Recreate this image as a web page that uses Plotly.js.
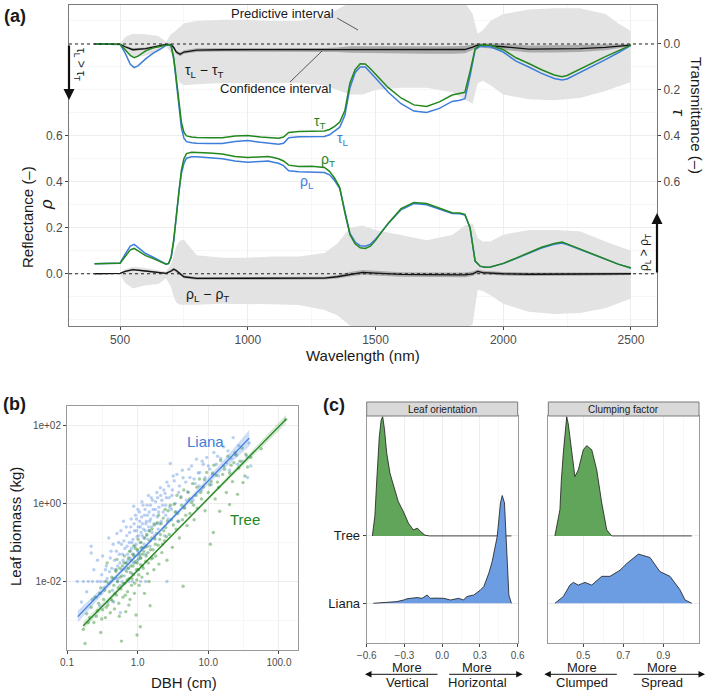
<!DOCTYPE html>
<html>
<head>
<meta charset="utf-8">
<script src="https://cdn.plot.ly/plotly-3.0.1.min.js"></script>
<style>html,body{margin:0;padding:0;background:#fff;}#chart{width:709px;height:691px;}</style>
</head>
<body>
<div id="chart"></div>
<script>
// ---------------- Panel (a) data ----------------
const wl = [400,450,500,520,540,555,570,600,630,660,680,690,700,710,720,730,740,750,760,780,800,850,900,950,1000,1050,1080,1100,1120,1140,1160,1200,1250,1300,1320,1340,1360,1380,1400,1420,1440,1460,1480,1500,1550,1600,1650,1700,1750,1800,1830,1850,1870,1890,1910,1930,1950,2000,2050,2100,2150,2200,2230,2250,2300,2350,2400,2450,2500];
const rhoTree = [0.043,0.044,0.046,0.075,0.104,0.11,0.1,0.079,0.066,0.05,0.042,0.045,0.075,0.15,0.26,0.37,0.45,0.5,0.522,0.528,0.528,0.525,0.52,0.51,0.505,0.508,0.51,0.505,0.5,0.49,0.472,0.466,0.467,0.462,0.445,0.415,0.375,0.265,0.17,0.13,0.113,0.11,0.12,0.145,0.22,0.283,0.31,0.305,0.285,0.265,0.264,0.258,0.2,0.055,0.033,0.028,0.029,0.045,0.068,0.093,0.115,0.132,0.138,0.13,0.108,0.085,0.063,0.042,0.025];
const rhoLiana = [0.043,0.044,0.047,0.085,0.12,0.128,0.115,0.088,0.072,0.052,0.042,0.044,0.07,0.14,0.25,0.355,0.435,0.48,0.502,0.508,0.508,0.505,0.5,0.49,0.485,0.488,0.49,0.485,0.48,0.47,0.448,0.443,0.443,0.44,0.43,0.405,0.37,0.265,0.175,0.138,0.122,0.12,0.128,0.15,0.218,0.278,0.305,0.3,0.28,0.262,0.261,0.255,0.2,0.055,0.032,0.028,0.029,0.044,0.066,0.09,0.112,0.128,0.134,0.127,0.106,0.084,0.062,0.042,0.025];
const tauTree = [0,0,0.001,0.025,0.05,0.06,0.053,0.03,0.017,0.01,0.003,0.002,0.008,0.06,0.15,0.26,0.34,0.385,0.4,0.405,0.407,0.408,0.408,0.4,0.398,0.405,0.408,0.409,0.41,0.405,0.385,0.381,0.381,0.379,0.372,0.358,0.34,0.29,0.17,0.112,0.086,0.087,0.108,0.132,0.19,0.235,0.265,0.272,0.252,0.222,0.216,0.21,0.12,0.02,0.005,0.004,0.006,0.025,0.06,0.085,0.112,0.135,0.142,0.137,0.11,0.08,0.055,0.03,0.005];
const tauLiana = [0,0,0.002,0.04,0.088,0.103,0.095,0.065,0.04,0.02,0.006,0.003,0.01,0.065,0.165,0.28,0.365,0.41,0.425,0.43,0.432,0.433,0.433,0.424,0.42,0.428,0.432,0.434,0.436,0.432,0.408,0.404,0.404,0.402,0.395,0.38,0.362,0.31,0.19,0.125,0.1,0.1,0.123,0.148,0.21,0.26,0.292,0.298,0.28,0.25,0.245,0.238,0.14,0.025,0.01,0.01,0.012,0.035,0.075,0.1,0.128,0.15,0.157,0.152,0.125,0.095,0.068,0.038,0.006];

const diffWl = [400,450,500,520,550,600,650,680,700,710,720,735,750,800,900,1000,1100,1200,1300,1350,1400,1450,1500,1600,1700,1800,1850,1880,1900,1920,1950,2000,2100,2200,2300,2400,2450,2500];
const dRho = [0,0,0.002,0.01,0.018,0.012,0.006,0.002,0.012,0.02,0.014,0,-0.013,-0.02,-0.02,-0.02,-0.02,-0.021,-0.019,-0.013,-0.002,0.006,0.003,-0.003,-0.004,-0.005,-0.005,0,0.01,0.005,0.002,0,-0.002,-0.002,-0.001,0,0,0];
const dTau = [0,0,0.002,0.012,0.025,0.02,0.01,0.002,0.004,0.015,0.035,0.045,0.035,0.027,0.025,0.025,0.025,0.025,0.025,0.025,0.024,0.023,0.024,0.025,0.026,0.026,0.024,0.014,0.005,0.006,0.008,0.012,0.022,0.022,0.02,0.015,0.01,0.005];

const bandWl = [500,520,550,600,650,680,700,710,720,735,750,800,900,1000,1100,1200,1300,1350,1400,1450,1500,1600,1700,1800,1850,1880,1900,1920,1950,2000,2100,2200,2300,2400,2450,2500];
const rhoPIhi = [0.003,0.02,0.03,0.025,0.015,0.01,0.04,0.08,0.12,0.145,0.148,0.08,0.07,0.07,0.075,0.075,0.09,0.13,0.2,0.21,0.19,0.168,0.146,0.168,0.21,0.22,0.155,0.14,0.14,0.17,0.19,0.19,0.185,0.14,0.12,0.1];
const rhoPIlo = [-0.003,-0.04,-0.064,-0.05,-0.045,-0.02,-0.06,-0.1,-0.125,-0.135,-0.137,-0.135,-0.13,-0.13,-0.133,-0.136,-0.158,-0.18,-0.225,-0.24,-0.24,-0.24,-0.24,-0.24,-0.24,-0.22,-0.07,-0.075,-0.093,-0.13,-0.165,-0.175,-0.17,-0.15,-0.13,-0.107];
const tauPIhi = [0.004,0.03,0.06,0.05,0.035,0.01,0.04,0.09,0.14,0.17,0.18,0.175,0.17,0.17,0.17,0.17,0.18,0.2,0.22,0.22,0.2,0.19,0.19,0.21,0.24,0.26,0.17,0.16,0.18,0.22,0.24,0.245,0.235,0.205,0.185,0.165];
const tauPIlo = [-0.003,-0.03,-0.045,-0.042,-0.035,-0.01,-0.045,-0.05,-0.06,-0.075,-0.09,-0.1,-0.105,-0.105,-0.1,-0.1,-0.12,-0.15,-0.18,-0.18,-0.18,-0.18,-0.175,-0.18,-0.18,-0.13,-0.045,-0.06,-0.1,-0.13,-0.15,-0.155,-0.155,-0.13,-0.09,-0.055];
const rhoCIw = [0.002,0.004,0.004,0.004,0.004,0.004,0.006,0.006,0.006,0.006,0.006,0.006,0.006,0.006,0.006,0.006,0.006,0.008,0.01,0.01,0.01,0.01,0.01,0.01,0.01,0.01,0.008,0.008,0.008,0.008,0.008,0.008,0.008,0.008,0.007,0.005];
const tauCIw = [0.002,0.005,0.006,0.005,0.005,0.004,0.006,0.008,0.008,0.008,0.008,0.008,0.008,0.008,0.008,0.008,0.008,0.01,0.014,0.016,0.016,0.016,0.016,0.016,0.016,0.012,0.008,0.01,0.012,0.014,0.015,0.015,0.015,0.012,0.009,0.005];

// ---------------- Panel (b) data: [DBH (cm), leaf biomass (kg)] ----------------
const lianaPts = [[0.14,0.01],[0.17,0.01],[0.2,0.01],[0.23,0.01],[0.27,0.01],[0.3,0.01],[0.34,0.01],[0.42,0.01],[0.52,0.01],[0.6,0.01],[0.75,0.01],[0.85,0.01],[1.1,0.01],[1.3,0.01],[2.6,0.01],
[0.16,0.003],[0.19,0.0055],[0.22,0.08],[0.22,0.054],[0.24,0.02],[0.26,0.004],[0.27,0.035],[0.29,0.0024],[0.3,0.005],[0.31,0.015],[0.32,0.045],[0.34,0.007],[0.36,0.025],[0.38,0.003],[0.39,0.13],[0.4,0.018],[0.42,0.06],[0.44,0.006],[0.46,0.003],[0.47,0.035],[0.49,0.012],[0.51,0.17],[0.52,0.025],[0.55,0.05],[0.57,0.0016],[0.57,0.008],[0.59,0.09],[0.6,0.02],[0.62,0.035],[0.63,0.35],[0.65,0.014],[0.66,0.07],[0.68,0.03],[0.7,0.15],[0.72,0.05],[0.74,0.022],[0.76,0.1],[0.78,0.04],[0.8,0.25],[0.82,0.07],[0.84,0.016],[0.86,0.12],[0.88,0.85],[0.88,0.05],[0.9,0.2],[0.92,0.03],[0.94,0.09],[0.96,0.4],[0.98,0.14],[1.0,0.06],[1.02,0.25],[1.04,0.02],[1.06,0.6],[1.08,0.1],[1.1,0.04],[1.12,0.18],[1.15,1.1],[1.17,0.3],[1.2,0.075],[1.22,0.13],[1.25,0.5],[1.28,0.2],[1.3,0.05],[1.33,0.35],[1.36,0.9],[1.4,0.12],[1.43,0.25],[1.46,0.6],[1.5,0.08],[1.53,0.4],[1.56,1.4],[1.6,0.18],[1.65,0.7],[1.7,0.3],[1.75,0.12],[1.8,1.1],[1.87,1.9],[1.9,0.45],[1.95,0.22],[2.0,0.8],[2.1,2.5],[2.15,0.35],[2.2,1.2],[2.3,0.6],[2.4,0.15],[2.45,1.8],[2.5,0.9],[2.6,3.5],[2.7,0.4],[2.8,1.4],[2.9,10.5],[3.0,0.7],[3.1,2.2],[3.2,5.0],[3.4,1.0],[3.6,5.5],[3.7,0.35],[3.9,2.8],[4.1,1.5],[4.3,7.0],[4.6,0.8],[4.8,3.5],[5.1,2.0],[5.5,4.6],[5.8,9],[6.1,1.2],[6.5,3.2],[6.8,13.5],[7.2,6],[7.6,6.2],[8.0,2.2],[8.5,10],[9.0,4.5],[9.5,15],[10.5,7.5],[11,3],[12,20],[13,10],[14,5],[15,14],[16.5,28],[18,11],[20,7],[22.5,48],[24,18],[27,30],[30,12],[35,16],[36,4.6],[38,35],[40,9],
[0.35,0.02],[0.37,0.012],[0.41,0.04],[0.43,0.022],[0.45,0.09],[0.48,0.02],[0.5,0.06],[0.53,0.012],[0.54,0.1],[0.56,0.03],[0.58,0.2],[0.61,0.05],[0.64,0.11],[0.67,0.02],[0.69,0.25],[0.71,0.08],[0.73,0.035],[0.77,0.18],[0.79,0.06],[0.81,0.4],[0.83,0.1],[0.87,0.03],[0.89,0.3],[0.91,0.08],[0.93,0.5],[0.97,0.2],[0.99,0.035],[1.01,0.7],[1.03,0.15],[1.05,0.045],[1.07,0.35],[1.09,0.25],[1.11,0.07],[1.14,0.45],[1.16,0.15],[1.19,0.9],[1.21,0.22],[1.24,0.09],[1.27,0.7],[1.31,0.3],[1.34,0.15],[1.38,0.5],[1.42,1.6],[1.45,0.2],[1.48,0.35],[1.52,0.9],[1.58,0.25],[1.62,1.2],[1.68,0.5],[1.72,0.15],[1.78,0.7],[1.84,0.3],[1.92,1.4],[1.98,0.6],[2.05,0.3],[2.12,1.6],[2.25,0.9],[2.35,2.2],[2.5,0.5],[2.55,1.4],[2.75,2.8],[2.85,0.8],[3.05,1.6],[3.3,3.8],[3.5,0.6],[3.8,1.9],[4.4,4.5],[4.9,1.2],[5.3,7.5],[6.3,4.2],[7.4,2.8],[8.2,12],[10,9],[11.5,5.5],[13.5,16],[19,22],[21,14],[26,10]];
const treePts = [[0.17,0.0006],[0.18,0.00026],[0.19,0.0015],[0.2,0.0009],[0.22,0.0022],[0.24,0.0009],[0.25,0.004],[0.26,0.0013],[0.28,0.0028],[0.3,0.0005],[0.3,0.007],[0.32,0.0019],[0.33,0.0035],[0.35,0.0012],[0.36,0.01],[0.37,0.03],[0.38,0.0025],[0.4,0.0055],[0.41,0.0016],[0.43,0.013],[0.44,0.0032],[0.46,0.008],[0.47,0.002],[0.49,0.018],[0.5,0.0045],[0.51,0.037],[0.52,0.01],[0.54,0.0028],[0.56,0.022],[0.58,0.0065],[0.59,0.0003],[0.6,0.014],[0.62,0.004],[0.64,0.03],[0.66,0.009],[0.68,0.0017],[0.7,0.018],[0.72,0.0055],[0.74,0.04],[0.76,0.012],[0.78,0.0035],[0.8,0.025],[0.82,0.008],[0.85,0.05],[0.87,0.015],[0.88,0.082],[0.9,0.005],[0.92,0.032],[0.95,0.0014],[0.97,0.011],[0.98,0.00043],[1.0,0.065],[1.01,0.02],[1.03,0.038],[1.05,0.008],[1.09,0.0007],[1.1,0.027],[1.12,0.1],[1.15,0.013],[1.18,0.05],[1.2,0.022],[1.25,0.005],[1.28,0.075],[1.3,0.033],[1.35,0.16],[1.38,0.016],[1.4,0.055],[1.45,0.01],[1.5,0.0024],[1.5,0.11],[1.55,0.038],[1.6,0.22],[1.65,0.065],[1.7,0.02],[1.75,0.13],[1.8,0.045],[1.9,0.32],[1.95,0.085],[2.0,0.028],[2.1,0.16],[2.2,0.055],[2.3,0.42],[2.4,0.11],[2.5,0.24],[2.6,0.035],[2.7,0.65],[2.8,0.16],[3.0,0.38],[3.1,0.075],[3.3,0.95],[3.5,0.22],[3.7,0.55],[3.9,0.13],[4.1,1.4],[4.3,0.38],[4.4,0.0076],[4.6,0.75],[5.0,0.27],[5.2,1.9],[5.5,0.55],[5.8,1.05],[6.0,3.2],[6.3,0.38],[6.7,1.6],[7.0,0.75],[7.5,4.2],[8.0,1.3],[8.5,2.6],[9.0,0.65],[9.5,6.2],[10.0,1.9],[10.7,0.09],[11,3.6],[11.8,0.18],[12,9.5],[12.5,1.3],[13,5.2],[14,2.6],[14.5,0.63],[15,12.5],[16,5.5],[17,7.5],[18,1.9],[19,16],[20,0.93],[21,9.5],[22,3.6],[24,20],[25,17],[26,1.7],[28,12],[30,26],[31,3.4],[33,5],[36,8.5],[40,15],[56,25],[125,140],
[0.21,0.0012],[0.23,0.0035],[0.27,0.0018],[0.29,0.005],[0.31,0.0011],[0.34,0.006],[0.36,0.0022],[0.39,0.009],[0.42,0.0035],[0.45,0.012],[0.48,0.005],[0.5,0.02],[0.53,0.007],[0.55,0.0013],[0.57,0.013],[0.61,0.025],[0.63,0.009],[0.65,0.045],[0.67,0.0045],[0.69,0.03],[0.71,0.011],[0.73,0.022],[0.75,0.0025],[0.77,0.06],[0.79,0.017],[0.81,0.035],[0.83,0.012],[0.86,0.025],[0.89,0.045],[0.91,0.009],[0.93,0.07],[0.96,0.02],[0.99,0.03],[1.02,0.12],[1.04,0.015],[1.07,0.05],[1.11,0.04],[1.14,0.075],[1.17,0.025],[1.22,0.06],[1.26,0.13],[1.32,0.045],[1.36,0.08],[1.42,0.03],[1.47,0.2],[1.52,0.065],[1.58,0.13],[1.63,0.04],[1.72,0.28],[1.78,0.09],[1.85,0.17],[1.98,0.5],[2.05,0.12],[2.15,0.3],[2.25,0.09],[2.35,0.2],[2.45,0.7],[2.55,0.14],[2.65,0.35],[2.9,0.9],[3.2,0.28],[3.4,0.6],[3.6,1.6],[3.8,0.35],[4.2,0.9],[4.5,2.2],[4.8,0.5],[5.4,1.3],[6.2,0.9],[6.9,2.6],[7.8,1.9],[8.8,4],[10.5,3],[11.5,6],[13.5,3.5],[16.5,9],[20,6],[23,11],[27,8],[34,18]];
const lianaFitX = [0.142,0.5,1.5,5,15,38];
const lianaFitY = [0.00127,0.0136,0.107,1.03,8.1,46.6];
const lianaFitLo = [0.0009,0.0118,0.097,0.9,6.3,29];
const lianaFitHi = [0.0018,0.0157,0.118,1.18,10.5,75];
const treeFitX = [0.17,1,10,126];
const treeFitY = [0.00074,0.0194,1.34,142];
const treeFitLo = [0.00058,0.018,1.22,108];
const treeFitHi = [0.00094,0.021,1.47,185];

// ---------------- Panel (c) data ----------------
const groups = ['Liana','Tree'];
const oriTreeX = [-0.555,-0.535,-0.52,-0.5,-0.485,-0.473,-0.46,-0.441,-0.415,-0.389,-0.349,-0.303,-0.269,-0.23,-0.21,-0.197,-0.171,-0.136,-0.1,0.55];
const oriTreeD = [0,0.3,0.83,1.47,1.72,1.77,1.6,1.23,0.93,0.76,0.51,0.34,0.19,0.09,0.1,0.115,0.064,0.01,0,0];
const oriLianaX = [-0.548,-0.45,-0.36,-0.3,-0.28,-0.2,-0.16,-0.12,-0.093,-0.05,0.013,0.066,0.13,0.17,0.195,0.25,0.3,0.331,0.371,0.397,0.437,0.463,0.477,0.495,0.517,0.53,0.55];
const oriLianaD = [0,0.015,0.025,0.052,0.067,0.085,0.074,0.123,0.074,0.077,0.074,0.049,0.074,0.049,0.1,0.123,0.19,0.25,0.45,0.62,0.99,1.49,1.6,1.49,0.49,0.12,0];
const clTreeX = [0.358,0.383,0.39,0.4,0.417,0.425,0.433,0.445,0.458,0.475,0.5,0.517,0.542,0.567,0.592,0.617,0.642,1.042];
const clTreeD = [0,0.39,0.82,1.23,1.77,1.66,1.47,1.16,0.88,0.98,1.28,1.34,1.28,0.98,0.49,0.09,0,0];
const clLianaX = [0.358,0.4,0.433,0.45,0.475,0.508,0.542,0.592,0.633,0.683,0.717,0.775,0.833,0.883,0.933,0.983,1.008,1.042];
const clLianaD = [0,0.1,0.27,0.31,0.27,0.31,0.27,0.4,0.4,0.49,0.59,0.73,0.68,0.47,0.4,0.2,0.05,0];

// ---------------- styles ----------------
const W = 709, H = 691;
const px = x => x / W, py = y => 1 - y / H;
const BLUE = '#3d7ddc', GREEN = '#23871f';
const BLUE_FILL = '#6c9de3', GREEN_FILL = '#61a55b';
const PI_FILL = '#e3e3e3', CI_FILL = '#ababab';
const FONT = 'Liberation Sans, Arial, sans-serif';

function band(x, hi, lo, xa, ya, color) {
  return {x: x.concat(x.slice().reverse()), y: hi.concat(lo.slice().reverse()),
    xaxis: xa, yaxis: ya, type: 'scatter', mode: 'lines', fill: 'toself',
    fillcolor: color, line: {width: 0}, hoverinfo: 'skip'};
}
function line(x, y, xa, ya, color, w) {
  return {x: x, y: y, xaxis: xa, yaxis: ya, type: 'scatter', mode: 'lines',
    line: {color: color, width: w}, hoverinfo: 'skip'};
}

const dRhoB = dRho.slice(2), dTauB = dTau.slice(2);
const traces = [];
traces.push(band(bandWl, rhoPIhi, rhoPIlo, 'x', 'y', PI_FILL));
traces.push(band(bandWl, tauPIhi, tauPIlo, 'x', 'y2', PI_FILL));
traces.push(band(bandWl, dRhoB.map((v,i)=>v+rhoCIw[i]), dRhoB.map((v,i)=>v-rhoCIw[i]), 'x', 'y', CI_FILL));
traces.push(band(bandWl, dTauB.map((v,i)=>v+tauCIw[i]), dTauB.map((v,i)=>v-tauCIw[i]), 'x', 'y2', CI_FILL));
traces.push(line(diffWl, dRho, 'x', 'y', '#111', 1.3));
traces.push(line(diffWl, dTau, 'x', 'y2', '#111', 1.3));
traces.push(line(wl, rhoLiana, 'x', 'y', BLUE, 1.5));
traces.push(line(wl, rhoTree, 'x', 'y', GREEN, 1.5));
traces.push(line(wl, tauLiana, 'x', 'y2', BLUE, 1.5));
traces.push(line(wl, tauTree, 'x', 'y2', GREEN, 1.5));

traces.push({x: lianaPts.map(p=>p[0]), y: lianaPts.map(p=>p[1]), xaxis:'x2', yaxis:'y3', type:'scatter', mode:'markers',
  marker:{size:3.4, color:'rgba(61,125,220,0.36)'}, hoverinfo:'skip'});
traces.push({x: treePts.map(p=>p[0]), y: treePts.map(p=>p[1]), xaxis:'x2', yaxis:'y3', type:'scatter', mode:'markers',
  marker:{size:3.4, color:'rgba(35,135,31,0.42)'}, hoverinfo:'skip'});
traces.push(band(lianaFitX, lianaFitHi, lianaFitLo, 'x2', 'y3', 'rgba(61,125,220,0.25)'));
traces.push(band(treeFitX, treeFitHi, treeFitLo, 'x2', 'y3', 'rgba(35,135,31,0.18)'));
traces.push(line(lianaFitX, lianaFitY, 'x2', 'y3', BLUE, 1.3));
traces.push(line(treeFitX, treeFitY, 'x2', 'y3', GREEN, 1.3));

function ridge(x, d, base, xa, ya, fill) {
  return {x: x, y: d.map(v=>v+base), xaxis: xa, yaxis: ya, type:'scatter', mode:'lines',
    fill:'toself', fillcolor: fill, line:{color:'#1a1a1a', width:0.8}, hoverinfo:'skip'};
}
traces.push(ridge(oriTreeX, oriTreeD, 2, 'x3', 'y4', GREEN_FILL));
traces.push(ridge(oriLianaX, oriLianaD, 1, 'x3', 'y4', BLUE_FILL));
traces.push(ridge(clTreeX, clTreeD, 2, 'x4', 'y5', GREEN_FILL));
traces.push(ridge(clLianaX, clLianaD, 1, 'x4', 'y5', BLUE_FILL));

const tickFont = {family: FONT, size: 12, color: '#4d4d4d'};
const smallTick = {family: FONT, size: 10, color: '#4d4d4d'};
const baseAx = {showgrid:true, gridcolor:'#e8e8e8', gridwidth:0.8, zeroline:false, showline:true, mirror:true,
  linecolor:'#7a7a7a', linewidth:1, ticks:'outside', ticklen:3, tickcolor:'#444', tickwidth:1};
const minorGrid = vals => ({tickvals: vals, showgrid:true, gridcolor:'#f1f1f1', gridwidth:0.6, ticklen:0});

const layout = {
  width: W, height: H, margin:{l:0,r:0,t:0,b:0}, paper_bgcolor:'#fff', plot_bgcolor:'#fff',
  showlegend:false, hovermode:false, font:{family: FONT, color:'#1a1a1a'},
  xaxis: Object.assign({}, baseAx, {domain:[px(69), px(657)], anchor:'y', range:[300,2602],
    tickmode:'array', tickvals:[500,1000,1500,2000,2500], ticktext:['500','1000','1500','2000','2500'],
    minor: minorGrid([750,1250,1750,2250]), tickfont: tickFont}),
  yaxis: Object.assign({}, baseAx, {domain:[py(326), py(5)], anchor:'x', range:[-0.227,1.168],
    tickmode:'array', tickvals:[0,0.2,0.4,0.6], ticktext:['0.0','0.2','0.4','0.6'],
    minor: minorGrid([-0.2,-0.1,0.1,0.3,0.5,0.7,0.8,0.9,1.0,1.1]), tickfont: tickFont}),
  yaxis2: {overlaying:'y', side:'right', anchor:'x', range:[1.227,-0.1696], showgrid:false, zeroline:false,
    showline:false, ticks:'outside', ticklen:3, tickcolor:'#444', tickmode:'array',
    tickvals:[0,0.2,0.4,0.6], ticktext:['0.0','0.2','0.4','0.6'], tickfont: tickFont},
  xaxis2: Object.assign({}, baseAx, {type:'log', domain:[px(67), px(298)], anchor:'y3', range:[-1,2.27],
    tickmode:'array', tickvals:[0.1,1,10,100], ticktext:['0.1','1.0','10.0','100.0'],
    minor: minorGrid([0.316,3.16,31.6]), tickfont: smallTick, linecolor:'#9a9a9a'}),
  yaxis3: Object.assign({}, baseAx, {type:'log', domain:[py(650), py(406)], anchor:'x2', range:[-3.75,2.49],
    tickmode:'array', tickvals:[0.01,1,100], ticktext:['1e-02','1e+00','1e+02'],
    minor: minorGrid([0.001,0.1,10]), tickfont: smallTick, linecolor:'#9a9a9a'}),
  xaxis3: Object.assign({}, baseAx, {domain:[px(366.7), px(517.7)], anchor:'y4', range:[-0.6,0.6],
    tickmode:'array', tickvals:[-0.6,-0.3,0,0.3,0.6], ticktext:['\u22120.6','\u22120.3','0.0','0.3','0.6'],
    minor: minorGrid([-0.45,-0.15,0.15,0.45]), tickfont: smallTick, linecolor:'#9a9a9a'}),
  yaxis4: Object.assign({}, baseAx, {domain:[py(642.7), py(416)], anchor:'x3', range:[0.415,3.78],
    tickmode:'array', tickvals:[1,2], ticktext: groups, tickfont:{family:FONT, size:13, color:'#1a1a1a'}, linecolor:'#9a9a9a'}),
  xaxis4: Object.assign({}, baseAx, {domain:[px(548.3), px(699)], anchor:'y5', range:[0.325,1.078],
    tickmode:'array', tickvals:[0.5,0.7,0.9], ticktext:['0.5','0.7','0.9'],
    minor: minorGrid([0.4,0.6,0.8,1.0]), tickfont: smallTick, linecolor:'#9a9a9a'}),
  yaxis5: Object.assign({}, baseAx, {domain:[py(642.7), py(416)], anchor:'x4', range:[0.415,3.78],
    tickmode:'array', tickvals:[1,2], showticklabels:false, ticks:'', linecolor:'#9a9a9a'}),
  shapes: [
    {type:'line', xref:'x domain', x0:0, x1:1, yref:'y', y0:0, y1:0, line:{color:'#222', width:1.1, dash:'dot'}},
    {type:'line', xref:'x domain', x0:0, x1:1, yref:'y2', y0:0, y1:0, line:{color:'#222', width:1.1, dash:'dot'}},
    {type:'line', xref:'paper', yref:'paper', x0:px(337), y0:py(18), x1:px(358), y1:py(30), line:{color:'#333', width:0.8}},
    {type:'line', xref:'paper', yref:'paper', x0:px(290), y0:py(82), x1:px(322), y1:py(51), line:{color:'#333', width:0.8}},
    {type:'rect', xref:'paper', yref:'paper', x0:px(366.7), x1:px(517.7), y0:py(416), y1:py(402), fillcolor:'#d9d9d9', line:{color:'#7a7a7a', width:1}},
    {type:'rect', xref:'paper', yref:'paper', x0:px(548.3), x1:px(699), y0:py(416), y1:py(402), fillcolor:'#d9d9d9', line:{color:'#7a7a7a', width:1}}
  ],
  annotations: []
};

function txt(t, x, y, size, opts) {
  return Object.assign({text:t, x:px(x), y:py(y), xref:'paper', yref:'paper', showarrow:false,
    xanchor:'center', yanchor:'middle', font:{family:FONT, size:size, color:'#1a1a1a'}}, opts || {});
}
function arrow(hx, hy, ax, ay, w, size) {
  return {text:'', x:px(hx), y:py(hy), xref:'paper', yref:'paper', showarrow:true, ax:ax, ay:ay,
    arrowhead:2, arrowsize:size, arrowwidth:w, arrowcolor:'#111', standoff:0, startstandoff:0};
}
const A = layout.annotations;
A.push(txt('<b>(a)</b>', 15, 16, 18));
A.push(txt('<b>(b)</b>', 15, 404, 18));
A.push(txt('<b>(c)</b>', 334, 405, 18));
A.push(txt('Reflectance (\u2013)', 27, 217, 15, {textangle:-90}));
A.push(txt('<i>\u03c1</i>', 47, 204, 17, {textangle:-90}));
A.push(txt('Transmittance (\u2013)', 697, 115, 15, {textangle:90}));
A.push(txt('<i>\u03c4</i>', 679, 113, 17, {textangle:90}));
A.push(txt('Wavelength (nm)', 363, 355, 15));
A.push(txt('Predictive interval', 282, 14, 13));
A.push(txt('Confidence interval', 275, 88, 13));
A.push(txt('\u03c4<sub>L</sub> \u2212 \u03c4<sub>T</sub>', 204, 71, 14));
A.push(txt('\u03c1<sub>L</sub> \u2212 \u03c1<sub>T</sub>', 207, 295, 14));
A.push(txt('\u03c4<sub>T</sub>', 320, 122, 14, {font:{family:FONT, size:14, color:GREEN}}));
A.push(txt('\u03c4<sub>L</sub>', 343, 139, 14, {font:{family:FONT, size:14, color:BLUE}}));
A.push(txt('\u03c1<sub>T</sub>', 328, 160, 14, {font:{family:FONT, size:14, color:GREEN}}));
A.push(txt('\u03c1<sub>L</sub>', 307, 182, 14, {font:{family:FONT, size:14, color:BLUE}}));
A.push(arrow(69, 100, 0, -56, 2.2, 1));
A.push(arrow(657, 213, 0, 61, 2.2, 1));
A.push(txt('\u03c4<sub>L</sub> > \u03c4<sub>T</sub>', 80, 64, 12, {textangle:90}));
A.push(txt('\u03c1<sub>L</sub> > \u03c1<sub>T</sub>', 645, 253, 12, {textangle:-90}));
A.push(txt('Leaf biomass (kg)', 15, 527, 15, {textangle:-90}));
A.push(txt('DBH (cm)', 184, 682, 15));
A.push(txt('Liana', 205, 441, 15, {font:{family:FONT, size:15, color:BLUE}}));
A.push(txt('Tree', 245, 519, 15, {font:{family:FONT, size:15, color:GREEN}}));
A.push(txt('Leaf orientation', 442.2, 409, 10));
A.push(txt('Clumping factor', 623.7, 409, 10));
A.push(txt('More', 407, 667, 13));
A.push(txt('Vertical', 407, 682.5, 13));
A.push(txt('More', 477.5, 667, 13));
A.push(txt('Horizontal', 477.5, 682.5, 13));
A.push(txt('More', 582.3, 667, 13));
A.push(txt('Clumped', 582.3, 682.5, 13));
A.push(txt('More', 661.7, 667, 13));
A.push(txt('Spread', 661.7, 682.5, 13));
A.push(arrow(365, 674.3, 74, 0, 1, 1.3));
A.push(arrow(522.7, 674.3, -75, 0, 1, 1.3));
A.push(arrow(544.3, 674.3, 74, 0, 1, 1.3));
A.push(arrow(705, 674.3, -73, 0, 1, 1.3));

Plotly.newPlot('chart', traces, layout, {staticPlot:true, displayModeBar:false});
</script>
</body>
</html>
